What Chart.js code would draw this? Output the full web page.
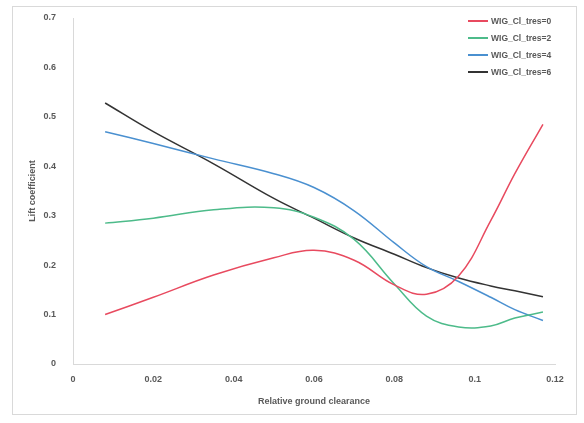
<!DOCTYPE html>
<html>
<head>
<meta charset="utf-8">
<script src="https://cdn.jsdelivr.net/npm/chart.js@4/dist/chart.umd.min.js"></script>
<style>
  html, body { margin: 0; padding: 0; background: #ffffff; }
  #wrap { position: relative; width: 584px; height: 423px; }
  #frame { position: absolute; left: 12px; top: 6px; width: 565px; height: 409px; border: 1px solid #d9d9d9; box-sizing: border-box; pointer-events: none; }
  canvas { position: absolute; left: 0; top: 0; }
  #legend { position: absolute; left: 468px; top: 12px; font-family: "Liberation Sans", Arial, sans-serif; font-size: 8.5px; font-weight: bold; color: #595959; }
  .item { height: 17px; display: flex; align-items: center; white-space: nowrap; }
  .swatch { width: 20px; height: 0; border-top: 2px solid; margin-right: 3px; }
</style>
</head>
<body>
<div id="wrap">
  <canvas id="c" width="584" height="423"></canvas>
  <div id="frame"></div>
  <div id="legend"></div>
</div>
<script>
const xValues = [0.008, 0.02, 0.035, 0.05, 0.06, 0.07, 0.08, 0.088, 0.096, 0.104, 0.11, 0.117];
const seriesNames = ["WIG_Cl_tres=0", "WIG_Cl_tres=2", "WIG_Cl_tres=4", "WIG_Cl_tres=6"];
const tres0 = [0.100, 0.135, 0.180, 0.215, 0.230, 0.210, 0.160, 0.141, 0.178, 0.290, 0.385, 0.485];
const tres2 = [0.285, 0.295, 0.312, 0.316, 0.297, 0.252, 0.162, 0.097, 0.075, 0.077, 0.093, 0.105];
const tres4 = [0.470, 0.446, 0.415, 0.385, 0.357, 0.310, 0.245, 0.197, 0.167, 0.135, 0.110, 0.088];
const tres6 = [0.528, 0.470, 0.405, 0.335, 0.295, 0.255, 0.222, 0.195, 0.174, 0.158, 0.148, 0.136];
const yTicks = [0, 0.1, 0.2, 0.3, 0.4, 0.5, 0.6, 0.7];
const xTicks = [0, 0.02, 0.04, 0.06, 0.08, 0.1, 0.12];

const colors = ["#e84a5f", "#4dbb8a", "#4a90d0", "#333333"];
const seriesValues = [tres0, tres2, tres4, tres6];

const datasets = seriesValues.map((vals, i) => ({
  label: seriesNames[i],
  data: vals.map((v, j) => ({ x: xValues[j], y: v })),
  borderColor: colors[i],
  backgroundColor: colors[i],
  borderWidth: 1.5,
  pointRadius: 0,
  tension: 0.4,
  showLine: true,
  fill: false
}));

const tickFont = { family: "'Liberation Sans', Arial, sans-serif", size: 9, weight: 'bold' };
const fmt = (v) => String(+Number(v).toFixed(4));

new Chart(document.getElementById('c'), {
  type: 'scatter',
  data: { datasets },
  options: {
    responsive: false,
    animation: false,
    layout: { padding: { left: 0, right: 29, top: 18, bottom: 0 } },
    plugins: { legend: { display: false }, tooltip: { enabled: false } },
    scales: {
      x: {
        type: 'linear',
        min: 0, max: 0.12,
        afterBuildTicks: (s) => { s.ticks = xTicks.map(v => ({ value: v })); },
        grid: { display: false },
        border: { display: true, color: '#d9d9d9', width: 1 },
        ticks: { font: tickFont, color: '#595959', padding: 2, maxRotation: 0, callback: fmt },
        title: { display: true, text: 'Relative ground clearance', font: tickFont, color: '#595959', padding: { top: 4, bottom: 16 } },
        afterFit: (s) => { s.height = 59; }
      },
      y: {
        type: 'linear',
        min: 0, max: 0.7,
        afterBuildTicks: (s) => { s.ticks = yTicks.map(v => ({ value: v })); },
        grid: { display: false },
        border: { display: true, color: '#d9d9d9', width: 1 },
        ticks: { font: tickFont, color: '#595959', padding: 9, callback: fmt },
        title: { display: true, text: 'Lift coefficient', font: tickFont, color: '#595959', padding: { top: 27, bottom: 0 } },
        afterFit: (s) => { s.width = 73; }
      }
    }
  }
});

const legend = document.getElementById('legend');
seriesNames.forEach((name, i) => {
  const item = document.createElement('div');
  item.className = 'item';
  const sw = document.createElement('span');
  sw.className = 'swatch';
  sw.style.borderTopColor = colors[i];
  const tx = document.createElement('span');
  tx.textContent = name;
  item.appendChild(sw);
  item.appendChild(tx);
  legend.appendChild(item);
});
</script>
</body>
</html>
